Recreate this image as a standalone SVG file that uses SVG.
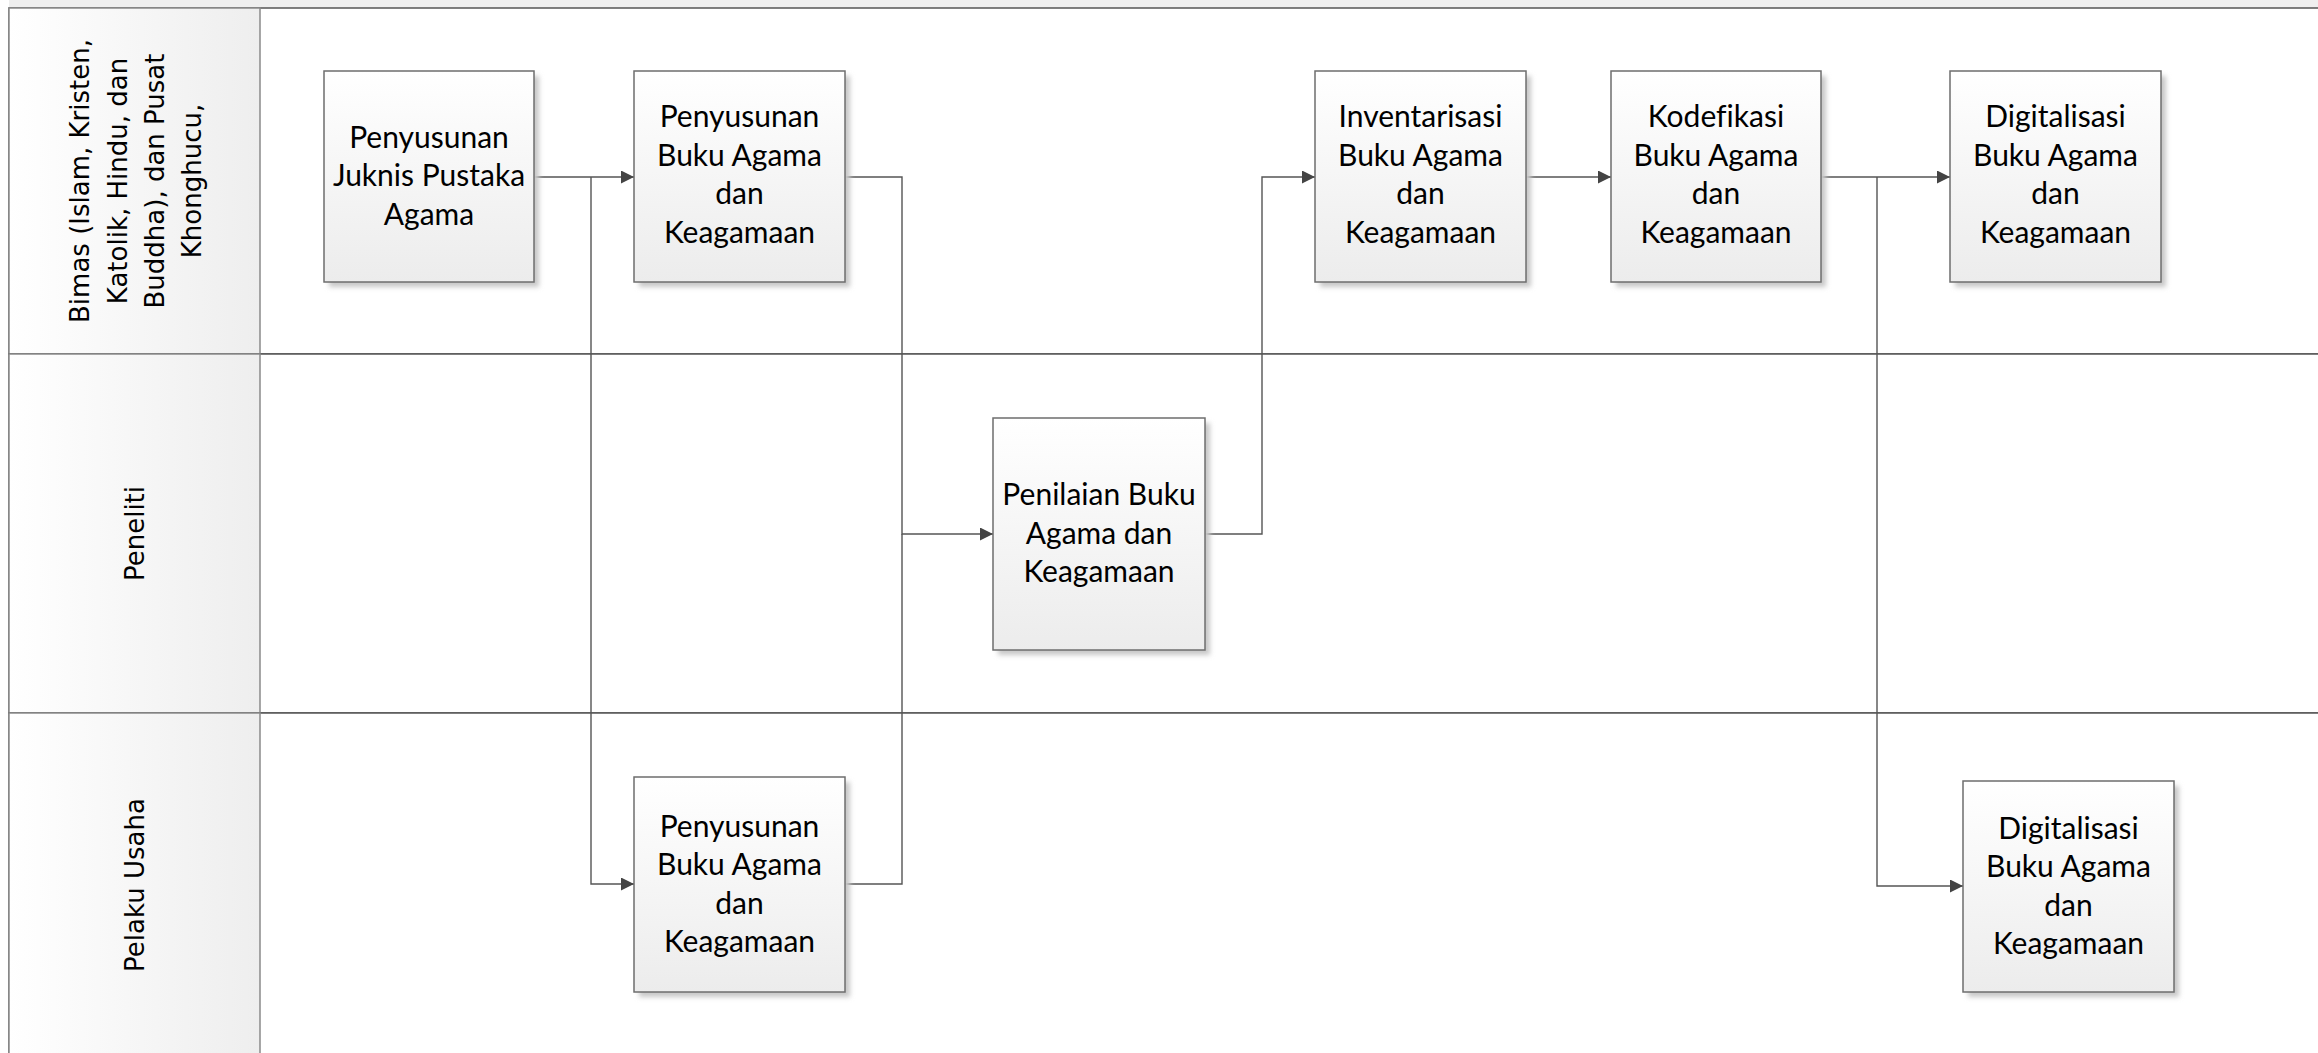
<svg xmlns="http://www.w3.org/2000/svg" width="2318" height="1053" viewBox="0 0 2318 1053">
<style>
.lane{fill:#ffffff;stroke:#555555;stroke-width:1.5}
.hdr{fill:url(#hg);stroke:#8a8a8a;stroke-width:1.5}
.lt{font-family:"DejaVu Sans",sans-serif;font-size:26px;fill:#000;text-anchor:middle}
.box{fill:url(#bg);stroke:#6e6e6e;stroke-width:1.5}
.sh{fill:#c8c8c8;filter:url(#blur)}
.nt{font-family:Lato,"Liberation Sans",sans-serif;font-size:30px;fill:#000;text-anchor:middle;font-variant-ligatures:none}
.con{fill:none;stroke:#555555;stroke-width:1.4}
</style>
<defs>
<linearGradient id="hg" x1="0" y1="0" x2="1" y2="0">
<stop offset="0" stop-color="#ffffff"/>
<stop offset="1" stop-color="#eeeeee"/>
</linearGradient>
<linearGradient id="bg" x1="0" y1="0" x2="0" y2="1">
<stop offset="0" stop-color="#ffffff"/>
<stop offset="1" stop-color="#ececec"/>
</linearGradient>
<filter id="blur" x="-10%" y="-10%" width="120%" height="120%">
<feGaussianBlur stdDeviation="2.5"/>
</filter>
<marker id="ah" markerUnits="userSpaceOnUse" markerWidth="14" markerHeight="13" refX="13" refY="6.5" orient="auto">
<path d="M0,0 L13,6.5 L0,13 z" fill="#444444"/>
</marker>
</defs>
<rect x="0" y="0" width="2318" height="1053" fill="#ffffff"/>
<rect x="9" y="0" width="2309" height="8" fill="#efefef"/>
<g id="lanes">
<g id="lane-bimas">
<rect class="lane" x="9" y="8" width="2320" height="346"/>
<rect class="hdr" x="9" y="8" width="251" height="346"/>
<text class="lt" transform="translate(89,181) rotate(-90)">Bimas (Islam, Kristen,</text>
<text class="lt" transform="translate(127,181) rotate(-90)">Katolik, Hindu, dan</text>
<text class="lt" transform="translate(164,181) rotate(-90)">Buddha), dan Pusat</text>
<text class="lt" transform="translate(201,181) rotate(-90)">Khonghucu,</text>
</g>
<g id="lane-peneliti">
<rect class="lane" x="9" y="354" width="2320" height="359"/>
<rect class="hdr" x="9" y="354" width="251" height="359"/>
<text class="lt" transform="translate(144,533.5) rotate(-90)">Peneliti</text>
</g>
<g id="lane-pelaku">
<rect class="lane" x="9" y="713" width="2320" height="360"/>
<rect class="hdr" x="9" y="713" width="251" height="360"/>
<text class="lt" transform="translate(144,885) rotate(-90)">Pelaku Usaha</text>
</g>
</g>
<g id="connectors">
<path class="con" d="M534,177 H634" marker-end="url(#ah)"/>
<path class="con" d="M591,177 V884 H634" marker-end="url(#ah)"/>
<path class="con" d="M845,177 H902 V534 H993" marker-end="url(#ah)"/>
<path class="con" d="M845,884 H902 V534"/>
<path class="con" d="M1205,534 H1262 V177 H1315" marker-end="url(#ah)"/>
<path class="con" d="M1526,177 H1611" marker-end="url(#ah)"/>
<path class="con" d="M1821,177 H1950" marker-end="url(#ah)"/>
<path class="con" d="M1877,177 V886 H1963" marker-end="url(#ah)"/>
</g>
<g id="n1">
<rect class="sh" x="329" y="76" width="210" height="211"/>
<rect class="box" x="324" y="71" width="210" height="211"/>
<text class="nt" x="429" y="148">Penyusunan</text>
<text class="nt" x="429" y="186">Juknis Pustaka</text>
<text class="nt" x="429" y="225">Agama</text>
</g>
<g id="n2">
<rect class="sh" x="639" y="76" width="211" height="211"/>
<rect class="box" x="634" y="71" width="211" height="211"/>
<text class="nt" x="739.5" y="127">Penyusunan</text>
<text class="nt" x="739.5" y="166">Buku Agama</text>
<text class="nt" x="739.5" y="204">dan</text>
<text class="nt" x="739.5" y="243">Keagamaan</text>
</g>
<g id="n3">
<rect class="sh" x="1320" y="76" width="211" height="211"/>
<rect class="box" x="1315" y="71" width="211" height="211"/>
<text class="nt" x="1420.5" y="127">Inventarisasi</text>
<text class="nt" x="1420.5" y="166">Buku Agama</text>
<text class="nt" x="1420.5" y="204">dan</text>
<text class="nt" x="1420.5" y="243">Keagamaan</text>
</g>
<g id="n4">
<rect class="sh" x="1616" y="76" width="210" height="211"/>
<rect class="box" x="1611" y="71" width="210" height="211"/>
<text class="nt" x="1716" y="127">Kodefikasi</text>
<text class="nt" x="1716" y="166">Buku Agama</text>
<text class="nt" x="1716" y="204">dan</text>
<text class="nt" x="1716" y="243">Keagamaan</text>
</g>
<g id="n5">
<rect class="sh" x="1955" y="76" width="211" height="211"/>
<rect class="box" x="1950" y="71" width="211" height="211"/>
<text class="nt" x="2055.5" y="127">Digitalisasi</text>
<text class="nt" x="2055.5" y="166">Buku Agama</text>
<text class="nt" x="2055.5" y="204">dan</text>
<text class="nt" x="2055.5" y="243">Keagamaan</text>
</g>
<g id="n6">
<rect class="sh" x="998" y="423" width="212" height="232"/>
<rect class="box" x="993" y="418" width="212" height="232"/>
<text class="nt" x="1099" y="505">Penilaian Buku</text>
<text class="nt" x="1099" y="544">Agama dan</text>
<text class="nt" x="1099" y="582">Keagamaan</text>
</g>
<g id="n7">
<rect class="sh" x="639" y="782" width="211" height="215"/>
<rect class="box" x="634" y="777" width="211" height="215"/>
<text class="nt" x="739.5" y="837">Penyusunan</text>
<text class="nt" x="739.5" y="875">Buku Agama</text>
<text class="nt" x="739.5" y="914">dan</text>
<text class="nt" x="739.5" y="952">Keagamaan</text>
</g>
<g id="n8">
<rect class="sh" x="1968" y="786" width="211" height="211"/>
<rect class="box" x="1963" y="781" width="211" height="211"/>
<text class="nt" x="2068.5" y="839">Digitalisasi</text>
<text class="nt" x="2068.5" y="877">Buku Agama</text>
<text class="nt" x="2068.5" y="916">dan</text>
<text class="nt" x="2068.5" y="954">Keagamaan</text>
</g>
</svg>
